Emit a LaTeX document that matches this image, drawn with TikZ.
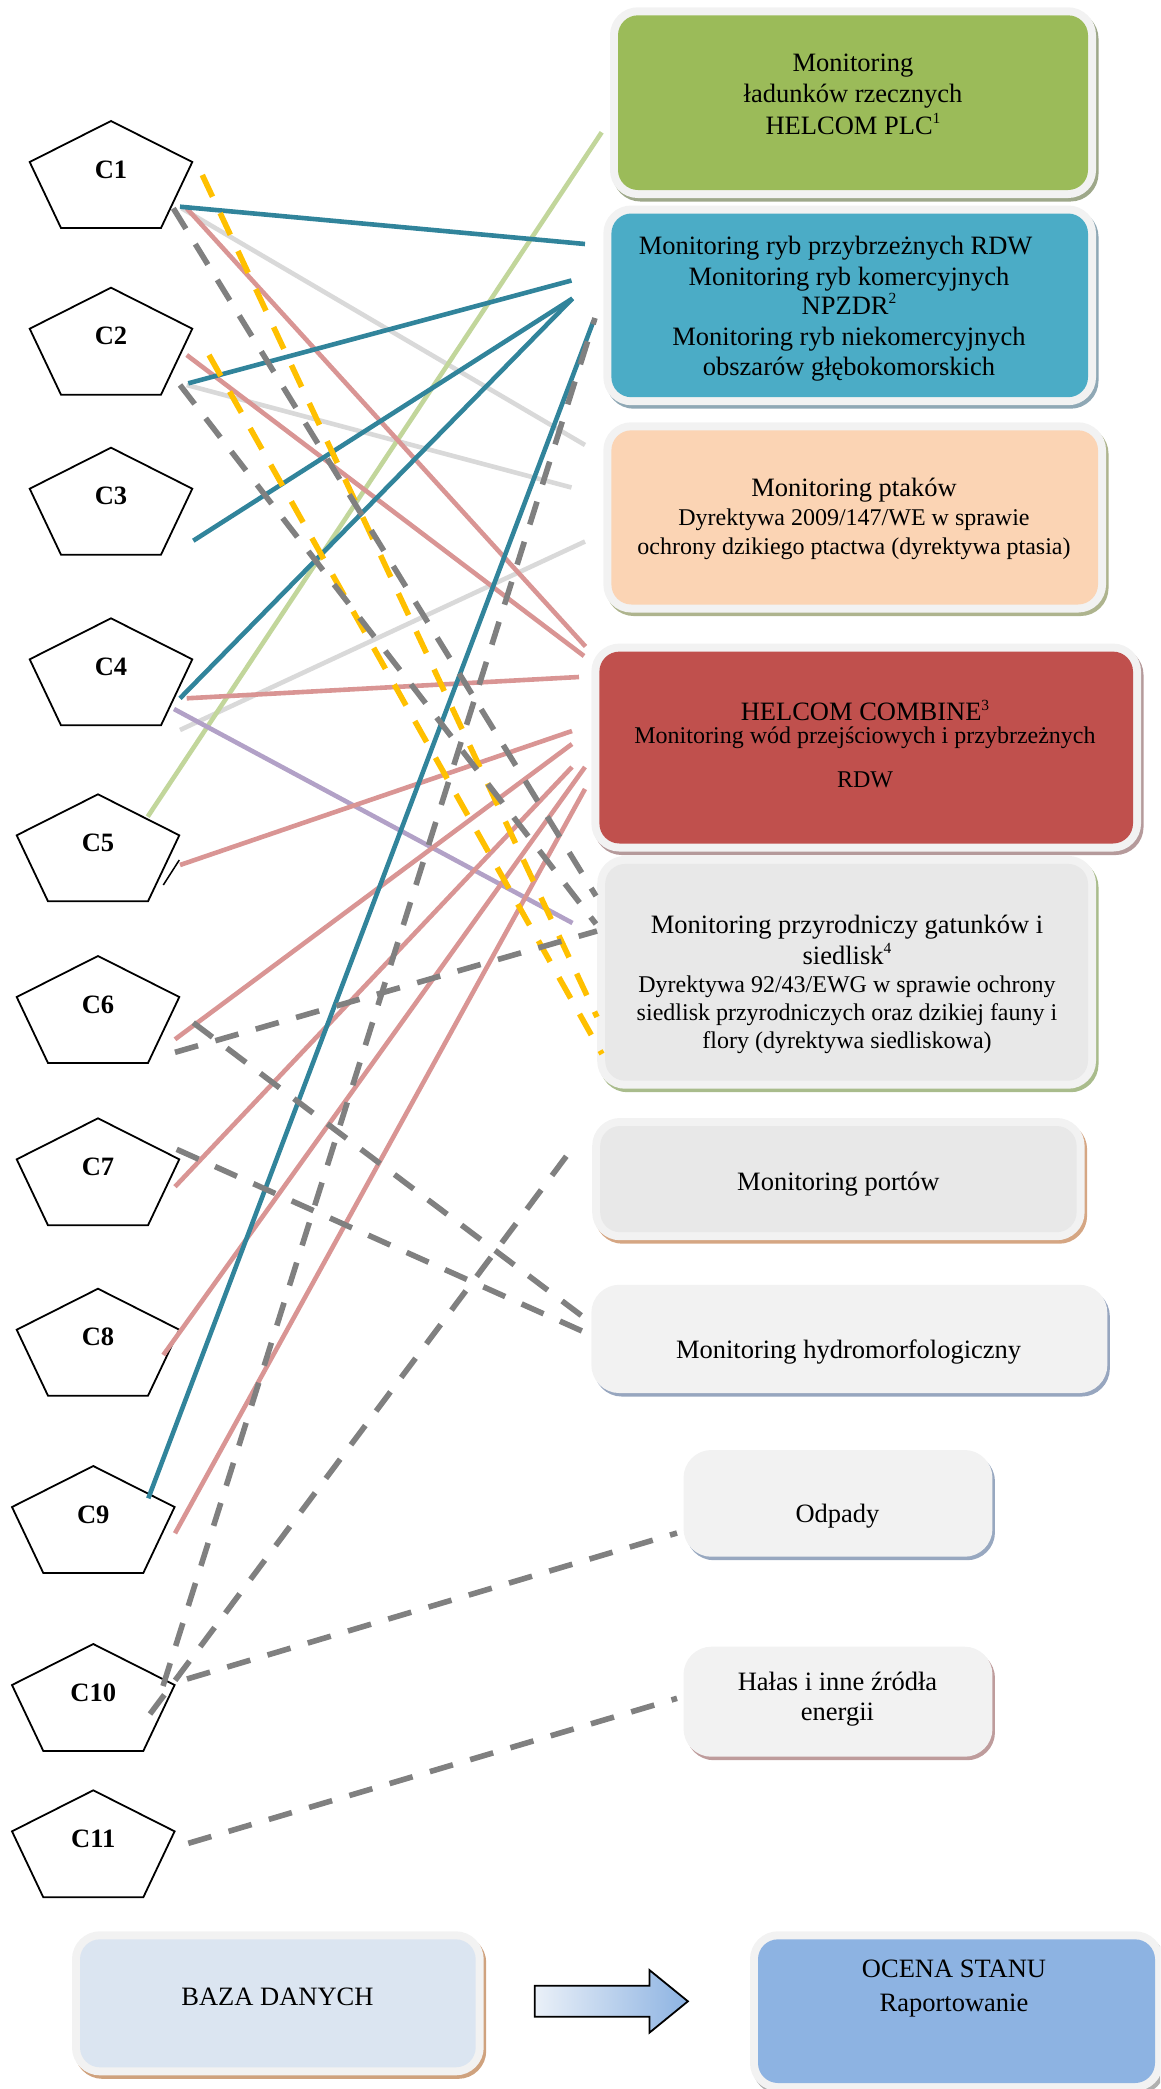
\documentclass[tikz,border=0pt]{standalone}
\usepackage{fontspec}
\setmainfont{Liberation Serif}
\definecolor{cTeal}{HTML}{31849B}
\definecolor{cLGrey}{HTML}{D9D9D9}
\definecolor{cPink}{HTML}{D99594}
\definecolor{cYellow}{HTML}{FFC000}
\definecolor{cDGrey}{HTML}{808080}
\definecolor{cLGreen}{HTML}{C2D69B}
\definecolor{cPurple}{HTML}{B2A1C7}
\definecolor{fGreen}{HTML}{9BBB59}
\definecolor{fBlue}{HTML}{4BACC6}
\definecolor{fPeach}{HTML}{FBD4B4}
\definecolor{fRed}{HTML}{C0504D}
\definecolor{fGrey}{HTML}{E8E8E8}
\definecolor{fLight}{HTML}{F2F2F2}
\definecolor{fBaza}{HTML}{DBE5F1}
\definecolor{fOcena}{HTML}{8DB3E2}
\definecolor{hHalo}{HTML}{F2F2F2}
\definecolor{sGreen}{HTML}{9EA88A}
\definecolor{sBlue}{HTML}{8FA8B5}
\definecolor{sPeach}{HTML}{AEB48E}
\definecolor{sRed}{HTML}{B59A9B}
\definecolor{sNat}{HTML}{A9BC8C}
\definecolor{sPort}{HTML}{D5A683}
\definecolor{sHydro}{HTML}{97A6BF}
\definecolor{sOdp}{HTML}{98A8C0}
\definecolor{sHal}{HTML}{BE9C9C}
\definecolor{sBaza}{HTML}{CFA27E}
\definecolor{sOcena}{HTML}{B0B0B0}
\definecolor{arrL}{HTML}{EAF0F8}
\definecolor{arrM}{HTML}{D2DFF1}
\definecolor{arrR}{HTML}{8DB3E2}
\newcommand\txtbig{\fontsize{26.5}{30.5}\selectfont}
\newcommand\txtsmall{\fontsize{24}{27.5}\selectfont}
\newcommand\supr[1]{\raisebox{0.4em}{\fontsize{15.5}{16}\selectfont #1}}
\tikzset{
  pics/pentagon/.style={code={\draw[line width=1.8pt, line join=miter]
      (0,0) -- (81.3,41) -- (50,107) -- (-50,107) -- (-81.3,41) -- cycle;}},
  clabel/.style={font=\txtbig\bfseries, anchor=base, inner sep=0pt},
  tbig/.style={font=\txtbig, anchor=base, inner sep=0pt},
  tsmall/.style={font=\txtsmall, anchor=base, inner sep=0pt},
  wbox/.style n args={3}{rectangle, rounded corners=20pt, fill=#1, inner sep=0pt,
    preaction={draw=#3, line width=16pt, transform canvas={xshift=2.5pt,yshift=-3.5pt}},
    preaction={draw=#2, line width=16pt}},
  conn/.style={line width=4.6pt, line cap=butt},
  dconn/.style={line width=5.6pt, line cap=butt, dash pattern=on 24pt off 18pt},
}
\begin{document}
\begin{tikzpicture}[x=1pt,y=-1pt]
\useasboundingbox (0,0) rectangle (1160,2089);
\clip (0,0) rectangle (1160,2089);

% ---------------- boxes ----------------
\node[wbox={fGreen}{hHalo}{sGreen}, minimum width=470pt, minimum height=174.7pt] (bGreen) at (853,102.65) {};
\node[wbox={fBlue}{hHalo}{sBlue}, minimum width=476.6pt, minimum height=183.7pt] (bBlue) at (849.7,305.35) {};
\node[wbox={fPeach}{hHalo}{sPeach}, minimum width=486.6pt, minimum height=174.2pt] (bPeach) at (854.7,517.4) {};
\node[wbox={fRed}{hHalo}{sRed}, minimum width=533.6pt, minimum height=191.9pt] (bRed) at (866.2,747.55) {};
\node[wbox={fGrey}{hHalo}{sNat}, minimum width=482.8pt, minimum height=216.8pt] (bNat) at (846.6,972.3) {};
\node[wbox={fGrey}{hHalo}{sPort}, minimum width=476.4pt, minimum height=106.2pt] (bPort) at (838.4,1179.1) {};
\node[wbox={fLight}{hHalo}{sHydro}, minimum width=499.9pt, minimum height=92.2pt] (bHydro) at (849.35,1338.9) {};
\node[wbox={fLight}{hHalo}{sOdp}, minimum width=292.9pt, minimum height=90.7pt] (bOdp) at (838,1503.35) {};
\node[wbox={fLight}{hHalo}{sHal}, minimum width=292.9pt, minimum height=94pt] (bHal) at (838,1701.7) {};
\node[wbox={fBaza}{hHalo}{sBaza}, minimum width=395.7pt, minimum height=128pt] (bBaza) at (277.85,2003.3) {};
\node[wbox={fOcena}{hHalo}{sOcena}, minimum width=397pt, minimum height=143.7pt] (bOcena) at (956.5,2011.15) {};

% ---------------- box texts ----------------
\node[tbig] (g1) at (853,71.8) {Monitoring};
\node[tbig] (g2) at (853,102.9) {ładunków rzecznych};
\node[tbig] (g3) at (853,134) {HELCOM PLC\supr{1}};

\node[tbig] (u1) at (835.6,254.2) {Monitoring ryb przybrzeżnych RDW};
\node[tbig] (u2) at (849,285.3) {Monitoring ryb komercyjnych};
\node[tbig] (u3) at (849,314.3) {NPZDR\supr{2}};
\node[tbig] (u4) at (849,345.4) {Monitoring ryb niekomercyjnych};
\node[tbig] (u5) at (849,375.7) {obszarów głębokomorskich};

\node[tbig] (p1) at (854,496.7) {Monitoring ptaków};
\node[tsmall] (p2) at (854,525.5) {Dyrektywa 2009/147/WE w sprawie};
\node[tsmall] (p3) at (854,554.5) {ochrony dzikiego ptactwa (dyrektywa ptasia)};

\node[tbig] (r1) at (865,720.9) {HELCOM COMBINE\supr{3}};
\node[tsmall] (r2) at (865,743.8) {Monitoring wód przejściowych i przybrzeżnych};
\node[tsmall] (r3) at (865,787.7) {RDW};

\node[tbig] (n1) at (847,933.5) {Monitoring przyrodniczy gatunków i};
\node[tbig] (n2) at (847,964.2) {siedlisk\supr{4}};
\node[tsmall] (n3) at (847,992.8) {Dyrektywa 92/43/EWG w sprawie ochrony};
\node[tsmall] (n4) at (847,1020.9) {siedlisk przyrodniczych oraz dzikiej fauny i};
\node[tsmall] (n5) at (847,1048.9) {flory (dyrektywa siedliskowa)};

\node[tbig] (t1) at (838.4,1190.3) {Monitoring portów};
\node[tbig] (t2) at (848.6,1358.1) {Monitoring hydromorfologiczny};
\node[tbig] (t3) at (837.5,1522.5) {Odpady};
\node[tbig] (t4) at (837.5,1690.8) {Hałas i inne źródła};
\node[tbig] (t5) at (837.5,1720.8) {energii};
\node[tbig] (t6) at (277.5,2005.8) {BAZA DANYCH};
\node[tbig] (t7) at (954,1977.5) {OCENA STANU};
\node[tbig] (t8) at (954,2011.5) {Raportowanie};

% ---------------- pentagons ----------------
\foreach \n/\x/\t in {1/111/121, 2/111/287.7, 3/111/447.7, 4/111/618.3,
    5/98/794.3, 6/98/956, 7/98/1118.3, 8/98/1288.7,
    9/93.3/1466, 10/93.3/1644, 11/93.3/1790.3}{
  \pic at (\x,\t) {pentagon};
  \node[clabel] (C\n) at (\x,\t+57) {C\n};
}

% ---------------- connector end points ----------------
\coordinate (s1t) at (180,206.7);   \coordinate (s1g) at (181.7,208.3);
\coordinate (s1p) at (186.7,208.3); \coordinate (s1y) at (202.3,175);
\coordinate (s1d) at (173.3,208.3);
\coordinate (s2t) at (188.3,383.3); \coordinate (s2g) at (186.7,385);
\coordinate (s2p) at (186.7,355);   \coordinate (s2y) at (209,355);
\coordinate (s2d) at (180,385);
\coordinate (s3t) at (193.3,540.7);
\coordinate (s4t) at (180,698.3);   \coordinate (s4g) at (180,730);
\coordinate (s4p) at (186.7,698.3); \coordinate (s4v) at (174,709);
\coordinate (s5l) at (147.7,816.7); \coordinate (s5p) at (180,865);
\coordinate (s6p) at (175,1039.3);  \coordinate (s6d) at (175,1052.3);
\coordinate (s6e) at (193.3,1022.7);
\coordinate (s7p) at (175,1186.7);  \coordinate (s7d) at (176.7,1149.3);
\coordinate (s8p) at (163.3,1355);
\coordinate (s9t) at (148.3,1498.3); \coordinate (s9p) at (175,1533.3);
\coordinate (s10a) at (163,1686);   \coordinate (s10b) at (150,1714);
\coordinate (s10c) at (187,1679);
\coordinate (s11) at (188.3,1843.3);
\coordinate (tkA) at (163.3,885);   \coordinate (tkB) at (179.3,860);

\coordinate (eB1) at (585,244);     \coordinate (eB2) at (571.5,280.5);
\coordinate (eB3) at (572.5,298.5); \coordinate (eB4) at (593.5,321);
\coordinate (eB5) at (595,318);
\coordinate (eO1) at (585,445);     \coordinate (eO2) at (571.5,487.5);
\coordinate (eO3) at (585,541.5);
\coordinate (eG) at (601.7,132.3);
\coordinate (eR1) at (585.5,646.5); \coordinate (eR2) at (584,656);
\coordinate (eR3) at (579,677);     \coordinate (eR4) at (572,731);
\coordinate (eR5) at (572,744);     \coordinate (eR6) at (572,767);
\coordinate (eR7) at (585,767);     \coordinate (eR8) at (585,789);
\coordinate (eN1) at (597,1017);    \coordinate (eN2) at (602,1054);
\coordinate (eN3) at (596,896);     \coordinate (eN4) at (596,924);
\coordinate (eN5) at (572.5,923);   \coordinate (eN6) at (597,931);
\coordinate (eH1) at (582,1316);    \coordinate (eH2) at (582,1331);
\coordinate (eP) at (568,1154);
\coordinate (eOd) at (677,1533);    \coordinate (eHa) at (677,1698.3);

% ---------------- connectors ----------------
\draw[conn, cLGrey] (s1g) -- (eO1);
\draw[conn, cLGrey] (s2g) -- (eO2);
\draw[conn, cLGrey] (s4g) -- (eO3);
\draw[conn, cLGreen] (s5l) -- (eG);
\draw[conn, cPurple] (s4v) -- (eN5);
\draw[conn, cPink] (s1p) -- (eR1);
\draw[conn, cPink] (s2p) -- (eR2);
\draw[conn, cPink] (s4p) -- (eR3);
\draw[conn, cPink] (s5p) -- (eR4);
\draw[conn, cPink] (s6p) -- (eR5);
\draw[conn, cPink] (s7p) -- (eR6);
\draw[conn, cPink] (s8p) -- (eR7);
\draw[conn, cPink] (s9p) -- (eR8);
\draw[conn, cTeal] (s1t) -- (eB1);
\draw[conn, cTeal] (s2t) -- (eB2);
\draw[conn, cTeal] (s3t) -- (eB3);
\draw[conn, cTeal] (s4t) -- (eB3);
\draw[conn, cTeal] (s9t) -- (eB4);
\draw[dconn, cYellow] (s1y) -- (eN1);
\draw[dconn, cYellow] (s2y) -- (eN2);
\draw[dconn, cDGrey] (s1d) -- (eN3);
\draw[dconn, cDGrey] (s2d) -- (eN4);
\draw[dconn, cDGrey] (s6d) -- (eN6);
\draw[dconn, cDGrey] (s6e) -- (eH1);
\draw[dconn, cDGrey] (s7d) -- (eH2);
\draw[dconn, cDGrey] (s10a) -- (eB5);
\draw[dconn, cDGrey] (s10b) -- (eP);
\draw[dconn, cDGrey] (s10c) -- (eOd);
\draw[dconn, cDGrey] (s11) -- (eHa);
\draw[line width=1.5pt] (tkA) -- (tkB);

% ---------------- block arrow ----------------
\path[draw=black, line width=1.8pt, line join=miter, left color=arrL, middle color=arrM, right color=arrR]
  (534.8,1985.7) -- (649.4,1985.7) -- (649.4,1970) -- (687.9,2001.3)
  -- (649.4,2032.7) -- (649.4,2016.7) -- (534.8,2016.7) -- cycle;
\end{tikzpicture}
\end{document}
